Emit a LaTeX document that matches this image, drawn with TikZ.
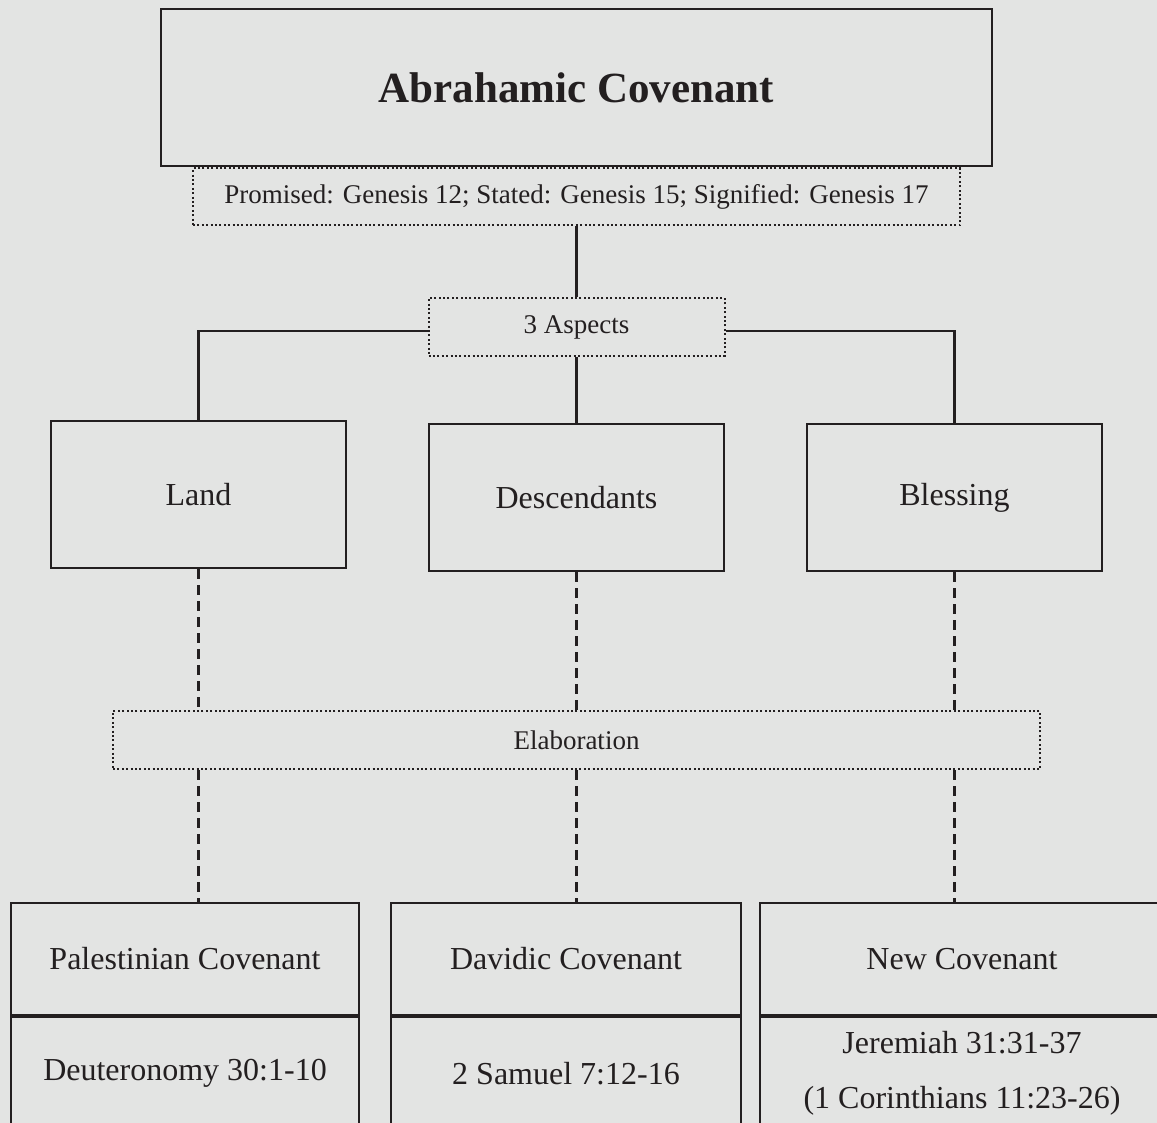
\documentclass[tikz,border=0pt]{standalone}
\usepackage{fontspec}
\setmainfont{Liberation Serif}
\usepackage{xcolor}
\usepackage{tikz}
\usetikzlibrary{positioning}
\definecolor{inkc}{HTML}{231F20}
\definecolor{pagebg}{HTML}{E3E4E3}
\tikzset{
  box/.style={draw=inkc,line width=2.2pt,rectangle,align=center,inner sep=4pt,text=inkc,font=\fontsize{32}{55}\selectfont},
  topbox/.style={box,line width=2.8pt,font=\fontsize{43}{50}\selectfont\bfseries},
  dotbox/.style={draw=inkc,line width=2pt,dash pattern=on 2pt off 2.4pt,rectangle,text=inkc,font=\fontsize{27}{32}\selectfont},
  ln/.style={draw=inkc,line width=2.2pt},
  dl/.style={draw=inkc,line width=2.2pt,dash pattern=on 10pt off 6pt}
}
\begin{document}
\begin{tikzpicture}[x=1pt,y=-1pt]
\fill[pagebg] (0,0) rectangle (1157,1123);
\useasboundingbox (0,0) rectangle (1157,1123);
\clip (0,0) rectangle (1157,1123);
\node[topbox,minimum width=831pt,minimum height=157pt] (abr) at (576.5,87.5) {Abrahamic Covenant};
\node[dotbox,minimum width=767pt,minimum height=57pt,below=0pt of abr] (cite) {Promised: Genesis 12; Stated: Genesis 15; Signified: Genesis 17};
\node[dotbox,minimum width=296pt,minimum height=58pt] (asp) at (576.5,327) {3 Aspects};
\node[box,minimum width=295pt,minimum height=147pt] (land) at (198.5,494.5) {Land};
\node[box,minimum width=295pt,minimum height=147pt] (desc) at (576.5,497.5) {Descendants};
\node[box,minimum width=295pt,minimum height=147pt] (bless) at (954.5,497.5) {Blessing};
\node[dotbox,minimum width=927pt,minimum height=58pt] (elab) at (576.5,740) {Elaboration};
\node[box,minimum width=348pt,minimum height=112pt] (pal) at (185,959) {Palestinian Covenant};
\node[box,minimum width=348pt,minimum height=112pt,below=0pt of pal] (palref) {Deuteronomy 30:1-10};
\node[box,minimum width=350pt,minimum height=112pt] (dav) at (566,959) {Davidic Covenant};
\node[box,minimum width=350pt,minimum height=112pt,below=0pt of dav] (davref) {2 Samuel 7:12-16};
\node[box,minimum width=404pt,minimum height=112pt] (new) at (962,959) {New Covenant};
\node[box,minimum width=404pt,minimum height=112pt,below=0pt of new] (newref) {Jeremiah 31:31-37\\(1 Corinthians 11:23-26)};
\draw[ln] (cite.south) -- (asp.north);
\draw[ln] ([yshift=-4pt]asp.west) -| (land.north);
\draw[ln] ([yshift=-4pt]asp.east) -| (bless.north);
\draw[ln] (asp.south) -- (desc.north);
\foreach \a/\b in {land/pal,desc/dav,bless/new}{
 \draw[dl] (\a.south) -- (\a.south |- elab.north);
 \draw[dl] (\a.south |- elab.south) -- (\a.south |- \b.north);}
\end{tikzpicture}
\end{document}
